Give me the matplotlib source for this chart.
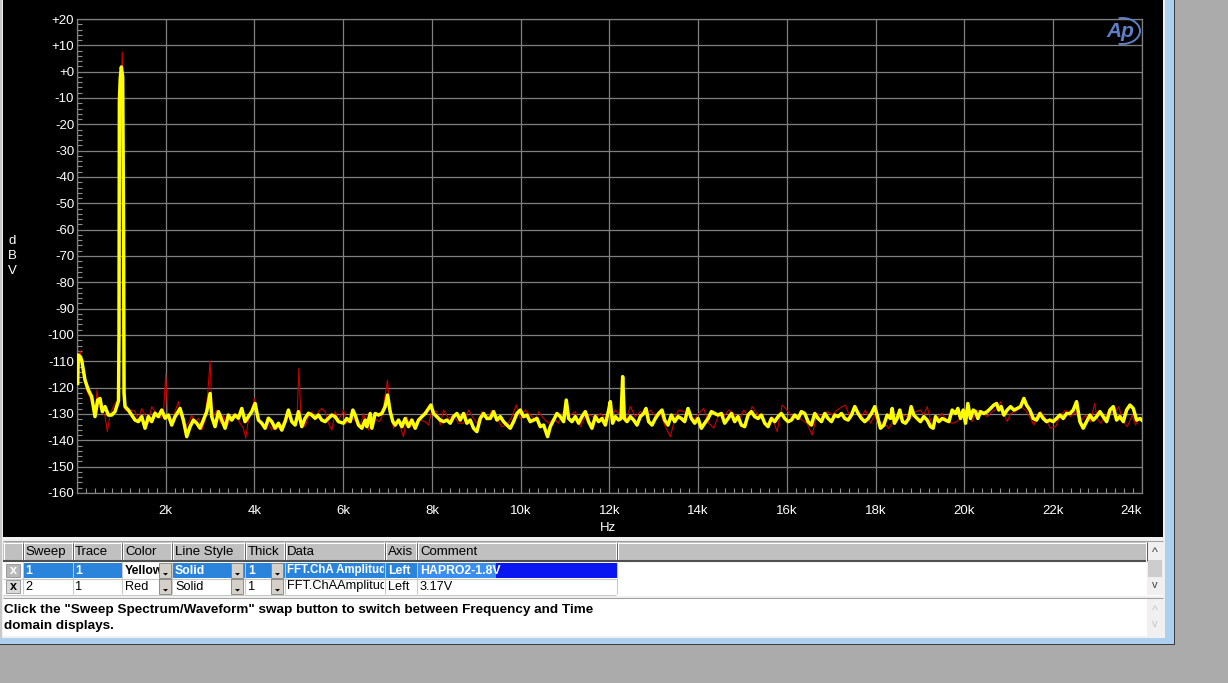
import numpy as np
import matplotlib
matplotlib.use("Agg")
import matplotlib.pyplot as plt
from matplotlib.patches import Rectangle, Arc, Polygon

plt.rcParams["font.family"] = ["Liberation Sans", "DejaVu Sans"]

# ── Data (Hz, dBV) ───────────────────────────────────────────────────
# Sweep 1, yellow: HAPRO2-1.8V
YELLOW_HZ = [
    15, 30, 70, 105, 180, 256, 331, 368, 406, 466, 519, 571, 632, 707, 782, 857, 917,
    935, 947, 955, 975, 1000, 1030, 1050, 1060,
    1083, 1158, 1233, 1308, 1383, 1459, 1534, 1609, 1684, 1759, 1834, 1910, 1985, 2060,
    2135, 2210, 2323, 2398, 2474, 2549, 2624, 2699, 2774, 2849, 2925, 3000, 3037, 3112,
    3188, 3263, 3338, 3413, 3488, 3563, 3639, 3714, 3789, 3864, 3939, 4015, 4090, 4165,
    4240, 4315, 4391, 4466, 4541, 4616, 4691, 4766, 4842, 4917, 4992, 5067, 5142, 5218,
    5293, 5368, 5443, 5518, 5593, 5669, 5744, 5819, 5894,
    6007, 6082, 6158, 6218, 6270, 6345, 6421, 6496, 6533, 6609, 6646, 6721, 6796, 6872,
    6947, 7000, 7060, 7120, 7172, 7248, 7323, 7398, 7473, 7548, 7624, 7699, 7774, 7849,
    7924, 7977, 8037, 8112, 8187, 8263, 8338, 8413, 8488, 8563, 8638, 8714, 8789, 8864,
    8939, 9014, 9090, 9165, 9240, 9315, 9390, 9465, 9541, 9616, 9691, 9766, 9841, 9917,
    9992, 10067, 10142, 10217, 10292, 10368, 10443, 10518, 10608, 10668, 10744, 10819,
    10894, 10969, 11029, 11082, 11157, 11232, 11307, 11382, 11458, 11533, 11608, 11683,
    11758, 11834, 11909, 11984,
    12022, 12074, 12135, 12210, 12262, 12300, 12338, 12398, 12473, 12548, 12623, 12698,
    12774, 12826, 12886, 12962, 13037, 13112, 13187, 13247, 13322, 13398, 13473, 13548,
    13623, 13698, 13773, 13849, 13924, 13999, 14074, 14149, 14225, 14300, 14375, 14450,
    14525, 14600, 14676, 14751, 14826, 14901, 14976, 15051, 15127, 15202, 15277, 15352,
    15427, 15503, 15578, 15653, 15728, 15803, 15878, 15954, 16029, 16104, 16179, 16254,
    16329, 16405, 16480, 16555, 16630, 16705, 16781, 16856, 16931, 17006, 17081, 17156,
    17232, 17307, 17382, 17457, 17532, 17608, 17683, 17758, 17833, 17908, 17983,
    18036, 18112, 18187, 18262, 18337, 18375, 18427, 18487, 18548, 18608, 18675, 18750,
    18803, 18863, 18938, 19013, 19089, 19164, 19239, 19299, 19352, 19427, 19502, 19577,
    19653, 19728, 19803, 19856, 19916, 19976, 20029, 20081, 20140, 20201, 20254, 20307,
    20367, 20442, 20517, 20592, 20668, 20728, 20780, 20833, 20893, 20968, 21044, 21119,
    21194, 21269, 21344, 21404, 21480, 21555, 21630, 21705, 21780, 21855, 21931, 22006,
    22081, 22156, 22231, 22307, 22382, 22457, 22532, 22607, 22682, 22758, 22833, 22908,
    22983, 23058, 23133, 23209, 23284, 23359, 23434, 23509, 23585, 23660, 23735, 23810,
    23886, 23961, 24000,
]
YELLOW_DBV = [
    -118.4, -107.6, -108.2, -109.5, -117.1, -120.9, -123.4, -127.2, -131.0, -124.7, -124.1, -129.1, -127.2, -130.4, -130.4, -129.1, -126.0,
    -125.0, -100.0, -11.5, -2.4, 1.8, -2.0, -60.0, -122.0,
    -127.2, -128.5, -130.4, -132.3, -132.9, -131.0, -135.4, -131.0, -132.9, -129.7, -131.0, -128.5, -131.6, -130.4,
    -134.2, -131.0, -127.9, -132.3, -138.6, -134.8, -132.3, -133.5, -135.4, -132.3, -129.1, -122.2, -131.0, -134.8,
    -129.1, -132.3, -135.4, -130.4, -132.3, -130.4, -131.6, -127.9, -132.9, -131.0, -129.1, -126.0, -132.3, -133.5,
    -135.4, -131.6, -132.9, -135.4, -133.5, -136.1, -132.9, -128.5, -132.9, -134.2, -129.1, -134.8, -131.6, -129.7,
    -130.4, -131.6, -130.4, -132.3, -132.9, -131.6, -130.4, -131.0, -132.9,
    -133.5, -131.7, -132.9, -128.5, -130.4, -134.2, -135.4, -132.3, -134.8, -129.8, -135.4, -129.8, -130.4, -129.8,
    -127.2, -122.8, -129.1, -132.9, -134.2, -132.3, -134.8, -131.7, -134.8, -132.3, -135.4, -132.3, -131.0, -129.8,
    -127.9, -126.6, -129.8, -131.0, -132.3, -132.9, -132.3, -133.5, -131.0, -129.8, -132.3, -129.8, -133.5, -132.3,
    -135.4, -136.7, -131.7, -129.8, -131.7, -131.7, -129.1, -132.3, -131.0, -132.9, -134.2, -135.4, -132.9, -129.8,
    -128.5, -131.0, -130.4, -132.9, -132.3, -131.7, -134.8, -134.2, -138.6, -134.8, -132.3, -129.8,
    -131.0, -132.9, -124.7, -131.7, -132.9, -131.0, -133.5, -131.0, -129.1, -132.9, -135.4, -131.0,
    -132.9, -131.7, -134.2, -128.5,
    -125.3, -133.5, -131.0, -132.3, -131.7, -115.8, -131.7, -132.9, -131.0, -132.3, -134.2, -131.0,
    -129.8, -127.9, -132.9, -134.2, -131.7, -129.8, -128.5, -132.3, -134.2, -130.4, -132.9, -131.0,
    -131.7, -132.9, -127.9, -131.7, -133.5, -131.7, -135.4, -133.5, -131.7, -129.1, -129.8, -130.4,
    -129.8, -133.5, -131.7, -129.8, -132.9, -131.0, -134.2, -134.8, -130.4, -129.1, -131.0, -131.7,
    -130.4, -133.5, -134.8, -131.7, -132.9, -131.0, -129.8, -131.7, -132.9, -132.3, -130.4, -131.7,
    -129.1, -129.8, -132.9, -134.2, -129.8, -131.7, -132.9, -129.8, -131.7, -132.9, -130.4, -131.0,
    -129.8, -131.7, -132.3, -130.4, -127.2, -129.8, -131.7, -132.9, -131.7, -129.8, -127.2,
    -130.4, -135.4, -134.2, -130.4, -131.7, -127.9, -133.5, -131.7, -128.5, -132.9, -133.5, -131.7,
    -127.2, -130.4, -131.7, -132.9, -131.0, -132.3, -134.8, -135.4, -131.0, -132.9, -131.7, -132.3,
    -132.9, -128.5, -129.8, -127.9, -131.7, -128.5, -133.5, -126.0, -131.7, -128.5, -129.1, -131.7,
    -129.1, -129.8, -129.1, -127.9, -126.6, -126.0, -128.5, -127.2, -130.4, -128.5, -127.2, -128.5,
    -127.9, -127.2, -124.1, -126.6, -128.5, -131.7, -132.3, -129.8, -131.7, -132.9, -132.3, -132.9,
    -131.7, -130.4, -131.7, -129.8, -129.8, -128.5, -125.3, -132.9, -135.4, -132.9, -130.4, -132.3,
    -131.0, -129.1, -131.0, -132.9, -128.5, -127.2, -132.3, -131.0, -132.9, -128.5, -126.6, -127.9,
    -132.3, -131.7, -132.3,
]

# Sweep 2, red: 3.17V
RED_HZ = [
    20, 68, 143, 218, 293, 368, 406, 451, 496, 556, 632, 684, 744, 820, 895,
    950, 975, 1000, 1020, 1035, 1055,
    1083, 1158, 1233, 1308, 1383, 1459, 1534, 1609, 1684, 1759, 1872, 1947, 2000, 2045,
    2135, 2210, 2286, 2361, 2436, 2511, 2586, 2661, 2737, 2812, 2887, 2947, 3000, 3040,
    3075, 3150, 3225, 3300, 3376, 3451, 3526, 3601, 3676, 3752, 3804, 3864, 3939, 4000,
    4075, 4165, 4240, 4315, 4391, 4466, 4541, 4616, 4691, 4766, 4842, 4917, 4960, 5000,
    5052, 5142, 5218, 5293, 5368, 5443, 5518, 5593, 5669, 5744, 5819, 5894,
    6007, 6082, 6233, 6383, 6458, 6571, 6684, 6819, 6872, 7000, 7045, 7135, 7248, 7360,
    7436, 7511, 7624, 7736, 7849, 7924, 7999, 8112, 8187, 8263, 8375, 8488, 8601, 8714,
    8826, 8939, 9014, 9127, 9240, 9353, 9465, 9578, 9691, 9804, 9902, 9992, 10105, 10217,
    10330, 10405, 10518, 10631, 10744, 10856, 10931, 11029, 11119, 11232, 11345, 11458,
    11570, 11683, 11796, 11909, 11984,
    12022, 12135, 12247, 12300, 12360, 12473, 12586, 12698, 12811, 12924, 13037, 13150,
    13262, 13375, 13488, 13563, 13676, 13789, 13901, 14014, 14127, 14240, 14352, 14465,
    14578, 14691, 14803, 14916, 15029, 15142, 15217, 15330, 15442, 15555, 15668, 15781,
    15894, 16006, 16119, 16232, 16345, 16457, 16570, 16683, 16796, 16908, 17021, 17134,
    17247, 17322, 17435, 17548, 17661, 17773, 17886, 17983,
    18036, 18187, 18299, 18412, 18525, 18638, 18773, 18901, 19013, 19089, 19164, 19277,
    19390, 19502, 19615, 19728, 19841, 19953, 20066, 20179, 20292, 20404, 20517, 20630,
    20743, 20818, 20893, 20968, 21044, 21156, 21269, 21382, 21495, 21570, 21645, 21720,
    21833, 21946, 22059, 22171, 22284, 22397, 22510, 22622, 22735, 22848, 22938, 22998,
    23073, 23149, 23261, 23374, 23487, 23562, 23675, 23788, 23863, 23938, 24000,
]
RED_DBV = [
    -117.0, -105.7, -114.6, -120.9, -124.1, -127.2, -131.0, -120.9, -127.2, -128.5, -131.0, -136.7, -130.4, -127.2, -125.3,
    -125.0, -60.0, -5.0, 7.5, -5.0, -80.0,
    -128.5, -129.1, -128.5, -129.1, -132.3, -127.9, -130.4, -133.5, -127.2, -129.1, -131.6, -130.4, -114.8, -131.0,
    -133.5, -129.1, -125.3, -132.3, -134.8, -133.5, -130.4, -133.5, -131.6, -136.1, -132.3, -122.2, -109.8, -127.2,
    -131.0, -128.5, -133.5, -130.4, -134.8, -132.3, -130.4, -131.0, -133.5, -135.4, -139.2, -132.3, -128.5, -124.1,
    -132.3, -132.9, -134.8, -133.5, -136.1, -134.2, -135.4, -134.2, -132.3, -131.0, -132.9, -134.2, -131.0, -112.7,
    -132.3, -134.8, -131.0, -129.1, -132.3, -129.1, -127.9, -129.1, -133.5, -136.1, -129.1, -132.3,
    -128.5, -133.5, -131.7, -134.8, -129.8, -136.1, -131.7, -132.9, -131.0, -117.1, -127.2, -135.4, -132.9, -138.6,
    -131.0, -134.8, -134.2, -132.3, -132.9, -134.2, -128.5, -129.1, -134.2, -128.5, -131.7, -130.4, -133.5, -133.5,
    -128.5, -131.7, -133.5, -129.1, -132.3, -128.5, -131.7, -134.8, -134.2, -131.0, -126.6, -131.7, -128.5, -130.4,
    -132.3, -129.1, -131.7, -133.5, -131.7, -133.5, -129.8, -129.1, -130.4, -129.1, -134.8, -131.0,
    -130.4, -131.7, -129.8, -131.7, -128.5,
    -131.7, -128.5, -130.4, -129.8, -132.9, -127.2, -131.0, -129.1, -130.4, -128.5, -131.0, -129.8,
    -134.8, -138.6, -131.0, -128.5, -129.1, -129.8, -132.3, -129.8, -127.9, -133.5, -135.4, -130.4,
    -131.0, -128.5, -129.8, -132.3, -128.5, -131.0, -127.2, -129.8, -131.7, -134.2, -131.0, -136.7,
    -126.6, -128.5, -131.7, -130.4, -132.3, -133.5, -138.0, -129.8, -131.0, -129.1, -130.4, -128.5,
    -127.2, -126.6, -131.7, -126.6, -131.7, -128.5, -133.5, -130.4,
    -132.9, -133.5, -135.4, -132.3, -131.7, -130.4, -131.7, -129.1, -128.5, -130.4, -127.2, -134.8,
    -131.7, -129.8, -132.9, -133.5, -132.9, -130.4, -129.8, -132.9, -128.5, -129.1, -131.0, -129.1,
    -127.9, -125.3, -129.8, -132.9, -129.8, -129.1, -127.2, -128.5, -131.7, -134.2, -130.4, -129.1,
    -131.7, -135.4, -134.8, -130.4, -128.5, -131.0, -129.1, -132.9, -130.4, -132.9, -126.0, -131.7,
    -133.5, -131.7, -129.1, -129.8, -127.2, -132.3, -134.8, -130.4, -134.2, -131.7, -132.3,
]

Y_TICKS = list(range(-160, 21, 10))
Y_LABELS = ["+%d" % v if v >= 0 else "%d" % v for v in Y_TICKS]
X_TICKS = list(range(0, 24001, 2000))
X_LABELS = [""] + ["%dk" % (v // 1000) for v in X_TICKS[1:]]

TABLE_HEAD = ["Sweep", "Trace", "Color", "Line Style", "Thick", "Data", "Axis", "Comment"]
ROW_1 = ["1", "1", "Yellow", "Solid", "1", "FFT.ChA Amplitud", "Left", "HAPRO2-1.8V"]
ROW_2 = ["2", "1", "Red", "Solid", "1", "FFT.ChAAmplitud", "Left", "3.17V"]
STATUS = ['Click the "Sweep Spectrum/Waveform" swap button to switch between Frequency and Time',
          "domain displays."]

# ── Figure / window chrome (pixel coordinates, y down) ───────────────
W, H = 1228, 683
fig = plt.figure(figsize=(W / 100, H / 100), dpi=100, facecolor="#ababab")
ui = fig.add_axes([0, 0, 1, 1])
ui.set_xlim(0, W)
ui.set_ylim(H, 0)
ui.axis("off")


def box(x0, y0, x1, y1, fc, ec="none", lw=0.0, z=1):
    r = Rectangle((x0, y0), x1 - x0, y1 - y0, facecolor=fc, edgecolor=ec,
                  linewidth=lw, zorder=z)
    ui.add_patch(r)
    return r


def hline(y, x0, x1, c, z=3, lw=0.75):
    ui.plot([x0, x1], [y, y], color=c, lw=lw, zorder=z, solid_capstyle="butt")


def vline(x, y0, y1, c, z=3, lw=0.75):
    ui.plot([x, x], [y0, y1], color=c, lw=lw, zorder=z, solid_capstyle="butt")


box(0, 0, 1174.5, 644.5, "#3c3c3c")
box(0, 0, 1173.5, 643.5, "#aed0f0")
box(0, 0, 1165, 638, "#f0f0f0")
box(0, 0, 2, 638, "#c8c8c8")
box(3, 0, 1163, 537, "#000000")

# table
box(3, 541, 1163, 596, "#ffffff")
hline(540.5, 3, 1163, "#a0a0a0")
cols = [(3, 22), (23, 72), (73, 121), (122, 171), (172, 244), (245, 284),
        (285, 384), (385, 416), (417, 616), (617, 1146)]
for x0, x1 in cols:
    box(x0, 542, x1, 560, "#c0c0c0", z=2)
    hline(542.5, x0, x1, "#ffffff")
    vline(x0 + 0.5, 542, 560, "#ffffff")
    vline(x1 + 0.5, 542, 561, "#606060")
hline(561, 3, 1146, "#505050", lw=1.5)

# row 1 (selected) and row 2
sel = "#2a84dc"
for i, (x0, x1) in enumerate(cols[1:9]):
    fc = sel
    if i == 2:
        fc = "#ffffff"
    if i == 7:
        fc = "#0a16f2"
    box(x0, 562.5, x1 + 0.5, 578, fc, z=2)
box(418, 563, 496, 577.5, "#3a8ef0", z=2)
for x0, x1 in cols[:9]:
    vline(x1 + 0.5, 562, 594, "#c8c8c8", z=2.5)
hline(578.5, 3, 616, "#c8c8c8", z=2.5)
hline(594.5, 3, 616, "#c8c8c8", z=2.5)

# check boxes
box(6, 564, 20, 577, "#b8b8b8", ec="#909090", lw=0.6, z=3)
box(6, 580, 20, 593, "#d8d8d8", ec="#909090", lw=0.6, z=3)
ui.text(13, 571, "x", color="white", fontsize=9, fontweight="bold", ha="center", va="center", zorder=4)
ui.text(13, 587, "x", color="black", fontsize=9, fontweight="bold", ha="center", va="center", zorder=4)

# dropdown buttons
for bx in (159, 231, 271):
    for by in (563, 579):
        box(bx, by, bx + 12, by + 14.5, "#d4d0c8", ec="#808080", lw=0.6, z=6)
        ui.add_patch(Polygon([(bx + 4, by + 10), (bx + 9, by + 10), (bx + 6.5, by + 12.5)],
                             closed=True, facecolor="black", edgecolor="none", zorder=7))

hx = [25, 75, 125, 175, 248, 287, 388, 420]
clip_x1 = [72, 121, 159, 231, 271, 384, 416, 616]
row1_size = [8.8, 8.8, 8.8, 8.8, 8.8, 8.3, 8.8, 8.8]
for j, t in enumerate(TABLE_HEAD):
    ui.text(hx[j], 552, t, fontsize=9.5, color="black", va="center", ha="left", zorder=5)
for j in range(8):
    clip = Rectangle((hx[j] - 3, 560), clip_x1[j] - hx[j] + 3, 40, transform=ui.transData)
    c1 = "black" if j == 2 else "white"
    t1 = ui.text(hx[j], 570.5, ROW_1[j], fontsize=row1_size[j], color=c1, fontweight="bold",
                 va="center", ha="left", zorder=5, clip_on=True)
    t1.set_clip_path(clip)
    t2 = ui.text(hx[j], 586.5, ROW_2[j], fontsize=9.2, color="black",
                 va="center", ha="left", zorder=5, clip_on=True)
    t2.set_clip_path(clip)

# scroll bars
box(1147, 542, 1163, 595, "#f0f0f0", z=2)
box(1148, 560, 1162, 577, "#cdcdcd", z=3)
ui.text(1155, 553, "^", fontsize=9, ha="center", va="center", color="#404040", zorder=4)
ui.text(1155, 585, "v", fontsize=8, ha="center", va="center", color="#404040", zorder=4)
hline(597.5, 3, 1163, "#a0a0a0")
box(3, 599, 1163, 636, "#ffffff")
box(1147, 599, 1163, 636, "#f0f0f0", z=2)
ui.text(1155, 611, "^", fontsize=9, ha="center", va="center", color="#c4c4c4", zorder=4)
ui.text(1155, 624, "v", fontsize=8, ha="center", va="center", color="#c4c4c4", zorder=4)

for k, line in enumerate(STATUS):
    ui.text(4, 609.5 + 16.5 * k, line, fontsize=9.7, fontweight="bold", color="black",
            va="center", ha="left", zorder=5)

# ── FFT plot ──────────────────────────────────────────────────────────
ax = fig.add_axes([77 / W, (H - 493) / H, (1141.7 - 77) / W, 474 / H])
ax.set_facecolor("black")
ax.set_xlim(0, 24000)
ax.set_ylim(-160, 20)

ax.plot(RED_HZ, RED_DBV, color="#c80000", lw=0.8, zorder=3)
ax.plot(YELLOW_HZ, YELLOW_DBV, color="#ffff00", lw=2.5, zorder=4)

ax.set_yticks(Y_TICKS)
ax.set_yticklabels(Y_LABELS)
ax.set_xticks(X_TICKS)
ax.set_xticklabels(X_LABELS)
ax.set_yticks(np.arange(-160, 21, 2), minor=True)
ax.set_xticks(np.arange(0, 24001, 200), minor=True)
ax.tick_params(which="major", length=0, colors="white", labelsize=9.5)
ax.tick_params(axis="y", which="major", pad=2)
ax.tick_params(axis="x", which="major", pad=9)
ax.tick_params(which="minor", direction="in", length=3.5, width=0.8, color="#909090")
ax.tick_params(which="minor", top=False, right=False)
ax.xaxis.get_majorticklabels()[-1].set_horizontalalignment("right")
ax.grid(True, which="major", color="#808080", lw=0.9)
ax.set_axisbelow(True)
for s in ax.spines.values():
    s.set_color("#808080")
    s.set_linewidth(0.9)

ax.text(0.499, -0.074, "Hz", transform=ax.transAxes, color="white", fontsize=9.5,
        ha="center", va="center")
ax.text(-0.061, 0.5, "d\nB\nV", transform=ax.transAxes, color="white", fontsize=9.5,
        ha="center", va="center", linespacing=1.3)

# AP logo, drawn over the plot area
over = fig.add_axes([0, 0, 1, 1], zorder=10)
over.set_xlim(0, W)
over.set_ylim(H, 0)
over.axis("off")
over.patch.set_alpha(0)
over.text(1120, 31.5, "Ap", fontsize=15, fontstyle="italic", fontweight="bold",
          color="#5f7fc6", ha="center", va="center")
over.add_patch(Arc((1122, 31), 36, 26, theta1=-105, theta2=105, color="#5f7fc6", lw=1.4))

fig.savefig("out.png", dpi=100, facecolor=fig.get_facecolor())
